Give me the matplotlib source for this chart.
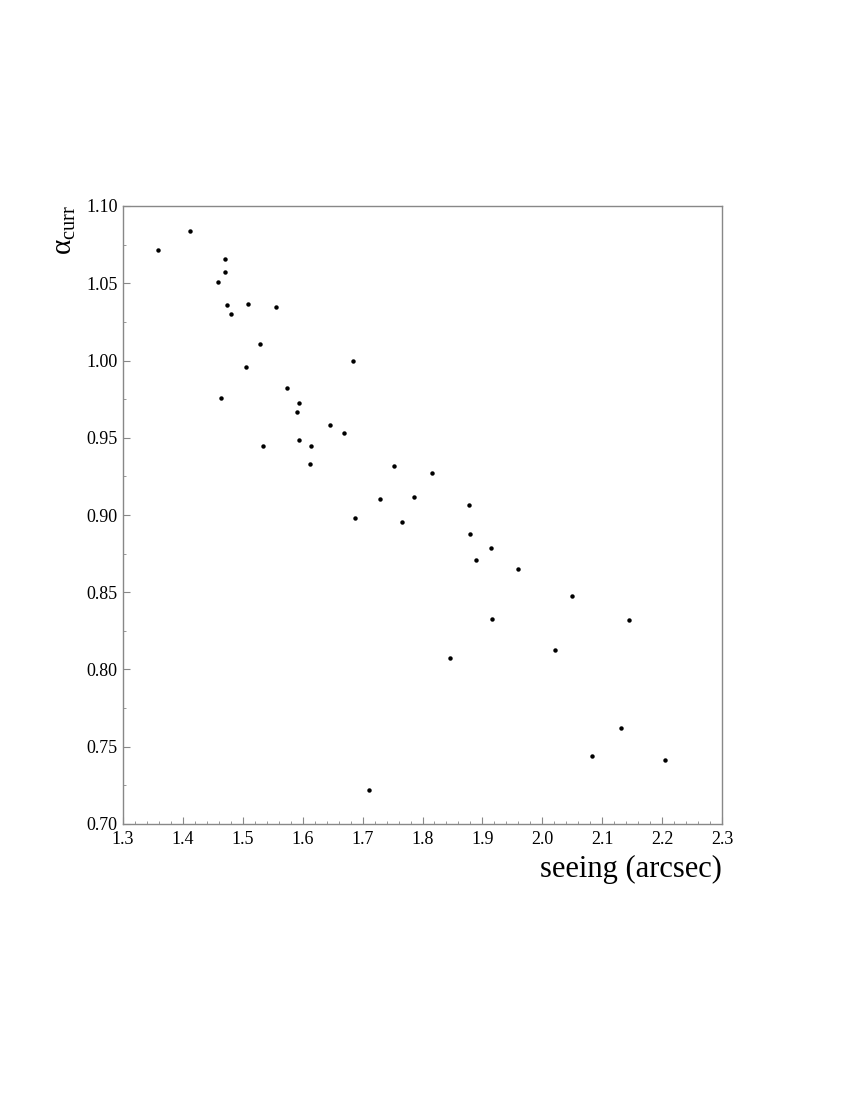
#coding:utf-8
# seeing vs alpha_curr scatter
import matplotlib
matplotlib.use('Agg')
import matplotlib.pyplot as plt
from matplotlib.ticker import MultipleLocator, FormatStrFormatter

plt.rcParams['font.family'] = ['Liberation Serif', 'DejaVu Serif']
plt.rcParams['mathtext.fontset'] = 'custom'
plt.rcParams['mathtext.rm'] = 'Liberation Serif'
plt.rcParams['mathtext.it'] = 'Liberation Serif:italic'

# seeing (arcsec)
seeing = [1.359, 1.412, 1.471, 1.471, 1.458, 1.474, 1.509, 1.480, 1.555, 1.528,
          1.506, 1.684, 1.464, 1.574, 1.594, 1.590, 1.646, 1.669, 1.594, 1.534,
          1.614, 1.612, 1.753, 1.816, 1.729, 1.786, 1.877, 1.688, 1.766, 1.880,
          1.914, 1.889, 1.959, 2.049, 1.916, 2.145, 2.021, 1.846, 1.711, 2.083,
          2.131, 2.205]
# alpha_curr
alpha = [1.0714, 1.0839, 1.066, 1.0574, 1.051, 1.036, 1.0366, 1.030, 1.0346, 1.011,
         0.996, 1.000, 0.9757, 0.9824, 0.9726, 0.9664, 0.9582, 0.9532, 0.9485, 0.9446,
         0.9446, 0.9329, 0.932, 0.9273, 0.9103, 0.9118, 0.9065, 0.8979, 0.8957, 0.8879,
         0.8787, 0.8710, 0.8653, 0.8477, 0.8330, 0.8323, 0.8127, 0.8075, 0.7219, 0.744,
         0.7621, 0.7416]

fig = plt.figure(figsize=(8.5, 11), dpi=100)
ax = fig.add_axes([123/850, 276/1100, 599/850, 618/1100])

ax.plot(seeing, alpha, 'o', color='black', markersize=3.2, markeredgewidth=0)

ax.set_xlim(1.3, 2.3)
ax.set_ylim(0.70, 1.10)
ax.xaxis.set_major_locator(MultipleLocator(0.1))
ax.xaxis.set_minor_locator(MultipleLocator(0.02))
ax.yaxis.set_major_locator(MultipleLocator(0.05))
ax.yaxis.set_minor_locator(MultipleLocator(0.025))
ax.xaxis.set_major_formatter(FormatStrFormatter('%.1f'))
ax.yaxis.set_major_formatter(FormatStrFormatter('%.2f'))

for s in ax.spines.values():
    s.set_color('#888888')
    s.set_linewidth(1.0)
ax.tick_params(which='both', direction='in', top=False, right=False,
               color='#888888', labelsize=13)
ax.tick_params(axis='x', pad=5)
ax.tick_params(axis='y', pad=4)
ax.tick_params(which='major', length=5, width=0.8)
ax.tick_params(which='minor', length=2.5, width=0.6)

ax.set_xlabel('seeing (arcsec)', fontsize=22, ha='right', va='center')
ax.xaxis.set_label_coords(1.0, -0.074)
ax.set_ylabel(r'$\mathrm{\alpha_{curr}}$', fontsize=21, va='center')
ax.yaxis.set_label_coords(-0.097, 0.961)

fig.savefig('out.png', dpi=100)
